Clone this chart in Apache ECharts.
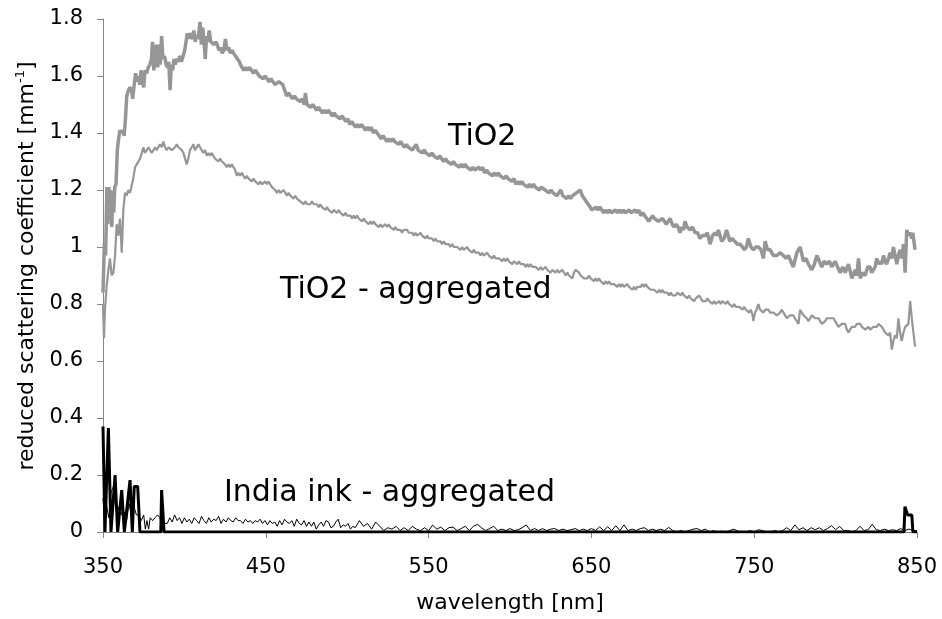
<!DOCTYPE html>
<html>
<head>
<meta charset="utf-8">
<script src="https://cdn.jsdelivr.net/npm/echarts@6/dist/echarts.min.js"></script>
<style>
html,body{margin:0;padding:0;background:#fff;}
#chart{width:942px;height:619px;}
</style>
</head>
<body>
<div id="chart"></div>
<script>
// ---- data (wavelength nm, reduced scattering coefficient mm^-1) ----
const xTicks = [350, 450, 550, 650, 750, 850];
const yTicks = [0, 0.2, 0.4, 0.6, 0.8, 1, 1.2, 1.4, 1.6, 1.8];

const tio2 = [
[350,0.84],[350.8,1.01],[351.6,0.97],[352.4,1.21],[353.0,1.08],[353.6,1.21],[354.2,1.10],[354.8,1.20],[355.4,1.07],[356.0,1.19],
[356.6,1.12],[357.2,1.21],[358.0,1.22],[358.8,1.34],[359.6,1.38],[360.4,1.41],[361.4,1.40],[362.2,1.41],[363.0,1.39],[363.8,1.45],
[364.6,1.53],[365.6,1.55],[366.6,1.56],[367.6,1.55],[368.2,1.52],[369.0,1.56],[370.0,1.61],[370.8,1.58],[371.6,1.60],[372.6,1.57],
[373.4,1.62],[374.2,1.59],[375.0,1.56],[375.8,1.62],[376.8,1.61],[377.8,1.63],[378.8,1.64],[379.8,1.66],[380.4,1.72],[381.2,1.62],
[382.0,1.67],[382.8,1.71],[383.6,1.63],[384.4,1.71],[385.2,1.64],[386.0,1.74],[386.8,1.66],[387.8,1.67],[388.8,1.64],[389.6,1.63],
[390.4,1.65],[391.2,1.55],[392.0,1.64],[392.8,1.62],[393.6,1.66],[394.4,1.64],[395.2,1.66],[396.2,1.65],[397.2,1.67],[398.2,1.65],
[399.2,1.67],[400.2,1.69],[401.0,1.72],[401.8,1.75],[402.6,1.73],[403.4,1.75],[404.2,1.74],[405.0,1.73],[405.8,1.76],[406.6,1.72],
[407.4,1.74],[408.2,1.73],[409.0,1.76],[409.6,1.79],[410.4,1.71],[411.2,1.77],[412.0,1.73],[412.8,1.66],[413.6,1.74],[414.4,1.72],
[415.2,1.76],[416.2,1.72],[417.2,1.72],[418.2,1.71],[419.2,1.72],[420.2,1.71],[421.2,1.69],[422.2,1.70],[423.2,1.68],[424.2,1.69],
[425.2,1.73],[426.2,1.69],[427.2,1.70],[428.2,1.68],[429.2,1.69],[430.2,1.68],[431.4,1.67],[432.6,1.66],[433.8,1.65],[434.4,1.64],
[435.4,1.63],[436.4,1.62],[437.6,1.63],[438.8,1.62],[440.0,1.63],[441.2,1.62],[442.4,1.61],[443.6,1.62],[444.8,1.61],[446.0,1.60],
[447.2,1.60],[448.4,1.59],[449.6,1.60],[450.8,1.59],[452.0,1.58],[453.2,1.59],[454.4,1.58],[455.6,1.57],[456.8,1.57],[458.0,1.58],
[459.2,1.58],[460.4,1.57],[461.6,1.55],[462.8,1.53],[464.0,1.54],[465.2,1.53],[466.4,1.52],[467.6,1.53],[468.8,1.52],[470.0,1.52],
[471.2,1.51],[472.4,1.52],[473.6,1.50],[474.3,1.54],[475.3,1.50],[476.4,1.50],[477.6,1.49],[478.8,1.50],[480.0,1.49],[481.2,1.48],
[482.4,1.49],[483.6,1.48],[484.8,1.47],[486.0,1.48],[487.2,1.47],[488.4,1.48],[489.6,1.47],[490.8,1.46],[492.0,1.47],[493.2,1.46],
[494.4,1.46],[495.6,1.45],[496.8,1.46],[498.0,1.45],[499.2,1.44],[500.4,1.45],[501.6,1.43],[502.8,1.44],[504.0,1.43],[505.2,1.42],
[506.4,1.43],[507.6,1.42],[508.8,1.43],[510.0,1.42],[511.2,1.41],[512.4,1.42],[513.6,1.41],[514.8,1.42],[516.0,1.40],[517.2,1.41],
[518.4,1.40],[519.6,1.39],[520.8,1.38],[522.0,1.39],[523.2,1.38],[524.4,1.37],[525.6,1.38],[526.8,1.37],[528.0,1.38],[529.2,1.37],
[530.4,1.37],[531.6,1.36],[532.8,1.37],[534.0,1.36],[535.2,1.35],[536.4,1.36],[537.6,1.35],[538.8,1.35],[540.0,1.34],[541.2,1.35],
[542.4,1.36],[543.6,1.34],[544.8,1.34],[546.0,1.33],[547.2,1.34],[548.4,1.33],[549.6,1.33],[550.8,1.32],[552.0,1.33],[553.2,1.32],
[554.4,1.32],[555.6,1.31],[556.8,1.32],[558.0,1.31],[559.2,1.30],[560.4,1.31],[561.6,1.30],[562.8,1.30],[564.0,1.29],[565.2,1.30],
[566.4,1.29],[567.6,1.29],[568.8,1.28],[570.0,1.29],[571.2,1.28],[572.4,1.29],[573.6,1.28],[574.8,1.28],[576.0,1.27],[577.2,1.28],
[578.4,1.27],[579.6,1.27],[580.8,1.28],[582.0,1.27],[583.2,1.28],[584.4,1.26],[585.6,1.27],[586.8,1.26],[588.0,1.26],[589.2,1.25],
[590.4,1.26],[591.6,1.25],[592.8,1.26],[594.0,1.25],[595.2,1.25],[596.4,1.24],[597.6,1.25],[598.8,1.24],[600.0,1.24],[601.2,1.23],
[602.4,1.24],[603.6,1.22],[604.8,1.23],[606.0,1.22],[607.2,1.23],[608.4,1.22],[609.6,1.22],[610.8,1.21],[612.0,1.22],[613.2,1.21],
[614.4,1.22],[615.6,1.21],[616.8,1.21],[618.0,1.20],[619.2,1.21],[620.4,1.21],[621.6,1.20],[622.8,1.20],[624.0,1.19],[625.2,1.20],
[626.4,1.19],[627.6,1.19],[628.8,1.18],[630.0,1.19],[631.2,1.20],[632.4,1.18],[633.6,1.18],[634.8,1.17],[636.0,1.18],[637.2,1.17],
[638.4,1.18],[639.6,1.18],[640.8,1.19],[642.0,1.19],[643.2,1.20],[644.4,1.18],[645.6,1.17],[646.8,1.16],[648.0,1.15],[649.2,1.14],
[650.4,1.13],[651.6,1.13],[652.8,1.14],[654.0,1.13],[655.2,1.14],[656.4,1.13],[657.6,1.12],[658.8,1.13],[660.0,1.12],[661.2,1.13],
[662.4,1.12],[663.6,1.12],[664.8,1.13],[666.0,1.12],[667.2,1.13],[668.4,1.12],[669.6,1.13],[670.8,1.12],[672.0,1.12],[673.2,1.13],
[674.4,1.12],[675.6,1.12],[676.8,1.13],[678.0,1.12],[679.2,1.13],[680.4,1.11],[681.6,1.12],[682.8,1.11],[684.0,1.11],[685.2,1.09],
[686.4,1.10],[687.6,1.11],[688.8,1.10],[690.0,1.10],[691.2,1.09],[692.4,1.09],[693.6,1.10],[694.8,1.09],[696.0,1.08],[697.2,1.09],
[698.4,1.10],[699.6,1.08],[700.8,1.07],[702.0,1.08],[703.2,1.07],[704.4,1.05],[705.6,1.07],[706.6,1.06],[707.5,1.09],[708.8,1.07],
[710.6,1.06],[712.0,1.07],[713.7,1.05],[715.2,1.05],[716.7,1.03],[718.2,1.04],[719.8,1.04],[721.2,1.05],[722.9,1.01],[724.4,1.04],
[726.0,1.05],[727.0,1.04],[728.0,1.06],[729.0,1.04],[730.0,1.02],[731.5,1.03],[733.0,1.06],[734.0,1.04],[735.0,1.02],[736.5,1.03],
[738.0,1.02],[739.6,1.01],[741.3,1.01],[742.8,1.00],[744.0,0.99],[745.2,1.00],[746.4,1.03],[748.0,1.00],[749.5,0.99],[751.0,1.00],
[752.6,1.00],[754.2,0.99],[755.7,0.96],[756.7,1.02],[758.2,0.99],[759.8,0.99],[761.8,0.97],[763.9,0.97],[765.9,0.98],[768.0,0.97],
[769.5,0.96],[771.0,0.97],[772.5,0.95],[774.0,0.93],[776.2,0.98],[778.2,1.00],[780.3,0.95],[781.8,0.96],[783.3,0.94],[785.4,0.92],
[787.0,0.94],[788.5,0.97],[790.0,0.95],[791.5,0.93],[793.0,0.95],[794.6,0.94],[796.2,0.95],[797.7,0.93],[799.7,0.95],[801.2,0.93],
[802.8,0.91],[804.4,0.93],[805.9,0.91],[807.9,0.94],[810.0,0.89],[812.0,0.92],[813.0,0.90],[814.1,0.96],[815.1,0.89],[816.7,0.91],
[818.2,0.90],[819.7,0.93],[821.2,0.93],[822.2,0.91],[823.2,0.91],[824.3,0.93],[825.3,0.96],[826.3,0.94],[827.3,0.95],[828.4,0.94],
[829.4,0.97],[830.4,0.95],[831.4,0.94],[832.5,0.96],[833.5,0.98],[834.5,0.96],[835.5,1.00],[836.6,0.97],[837.6,0.94],[838.6,0.97],
[839.6,0.99],[840.7,0.96],[841.7,1.01],[842.7,0.91],[843.7,1.06],[844.7,1.04],[845.8,1.05],[846.8,1.03],[847.4,1.05],[848.8,0.99]
];

const tio2Aggregated = [
[350.0,0.80],[350.6,0.68],[351.2,0.78],[352.2,0.86],[353.3,0.92],[354.3,0.96],[355.3,0.90],[356.4,0.91],[357.4,0.97],[358.4,1.08],
[359.4,1.04],[360.4,1.10],[361.5,0.98],[362.5,1.13],[363.5,1.19],[364.5,1.18],[365.6,1.20],[366.6,1.19],[367.6,1.19],[368.6,1.24],
[369.7,1.28],[370.7,1.29],[371.7,1.29],[372.8,1.31],[373.8,1.33],[374.8,1.35],[375.8,1.33],[376.8,1.33],[377.9,1.35],[378.9,1.35],
[379.9,1.33],[380.9,1.33],[382.0,1.35],[383.0,1.34],[384.0,1.35],[385.0,1.36],[386.1,1.35],[387.1,1.37],[388.1,1.35],[389.1,1.34],
[390.2,1.35],[391.2,1.35],[392.2,1.34],[393.2,1.34],[394.3,1.35],[395.3,1.36],[396.3,1.35],[397.3,1.35],[398.4,1.34],[399.4,1.33],
[400.4,1.31],[401.4,1.29],[402.4,1.31],[403.4,1.34],[404.5,1.35],[405.5,1.36],[406.5,1.34],[407.5,1.34],[408.6,1.36],[409.6,1.35],
[410.6,1.34],[411.6,1.33],[412.7,1.34],[413.7,1.32],[414.7,1.33],[415.7,1.32],[416.8,1.33],[417.8,1.32],[418.8,1.31],[419.9,1.31],
[420.9,1.30],[421.9,1.31],[423.0,1.30],[424.0,1.30],[425.0,1.29],[426.0,1.28],[427.1,1.29],[428.1,1.28],[429.1,1.29],[430.1,1.29],
[431.2,1.27],[432.2,1.25],[433.2,1.26],[434.2,1.25],[435.3,1.26],[436.3,1.25],[437.3,1.24],[438.4,1.25],[439.4,1.24],[440.4,1.24],
[441.4,1.23],[442.5,1.24],[443.5,1.23],[444.5,1.23],[445.6,1.22],[446.6,1.23],[447.6,1.22],[448.6,1.22],[449.7,1.23],[450.7,1.22],
[451.7,1.23],[452.7,1.22],[453.8,1.21],[454.8,1.21],[455.8,1.20],[456.8,1.19],[457.9,1.20],[458.9,1.19],[459.9,1.19],[460.9,1.20],
[462.0,1.19],[463.0,1.18],[464.0,1.19],[465.0,1.18],[466.1,1.18],[467.1,1.17],[468.1,1.18],[469.1,1.17],[470.2,1.17],[471.2,1.16],
[472.2,1.16],[473.2,1.15],[474.3,1.16],[475.3,1.15],[476.3,1.15],[477.3,1.15],[478.4,1.16],[479.4,1.15],[480.4,1.15],[481.4,1.15],
[482.5,1.14],[483.5,1.15],[484.5,1.14],[485.5,1.14],[486.6,1.13],[487.6,1.14],[488.6,1.13],[489.6,1.13],[490.7,1.12],[491.7,1.13],
[492.7,1.13],[493.7,1.12],[494.8,1.13],[495.8,1.12],[496.8,1.12],[497.8,1.11],[498.9,1.12],[499.9,1.11],[500.9,1.11],[502.0,1.11],
[503.0,1.10],[504.0,1.11],[505.0,1.10],[506.1,1.11],[507.1,1.10],[508.1,1.10],[509.1,1.09],[510.2,1.10],[511.2,1.09],[512.2,1.09],
[513.2,1.08],[514.3,1.09],[515.3,1.08],[516.3,1.09],[517.3,1.08],[518.4,1.08],[519.4,1.07],[520.4,1.08],[521.4,1.07],[522.4,1.07],
[523.5,1.08],[524.5,1.07],[525.5,1.08],[526.5,1.07],[527.6,1.07],[528.6,1.06],[529.6,1.07],[530.6,1.06],[531.7,1.06],[532.7,1.06],
[533.7,1.05],[534.7,1.06],[535.8,1.06],[536.8,1.06],[537.8,1.05],[538.8,1.05],[539.9,1.05],[540.9,1.04],[541.9,1.05],[542.9,1.04],
[544.0,1.04],[545.0,1.05],[546.0,1.04],[547.0,1.04],[548.1,1.03],[549.1,1.04],[550.1,1.03],[551.1,1.03],[552.2,1.03],[553.2,1.02],
[554.2,1.03],[555.2,1.02],[556.3,1.02],[557.3,1.02],[558.3,1.01],[559.3,1.02],[560.4,1.01],[561.4,1.01],[562.4,1.01],[563.4,1.00],
[564.5,1.01],[565.5,1.00],[566.5,1.00],[567.5,1.00],[568.6,1.00],[569.6,0.99],[570.6,1.00],[571.6,0.99],[572.7,0.99],[573.7,1.00],
[574.7,0.99],[575.7,0.99],[576.8,0.98],[577.8,0.99],[578.8,0.98],[579.8,0.98],[580.9,0.98],[581.9,0.97],[582.9,0.98],[583.9,0.97],
[585.0,0.97],[586.0,0.98],[587.0,0.97],[588.0,0.97],[589.1,0.96],[590.1,0.97],[591.1,0.96],[592.1,0.96],[593.2,0.96],[594.2,0.96],
[595.2,0.95],[596.2,0.96],[597.3,0.95],[598.3,0.96],[599.3,0.95],[600.3,0.95],[601.4,0.94],[602.4,0.95],[603.4,0.95],[604.4,0.94],
[605.5,0.95],[606.5,0.94],[607.5,0.94],[608.5,0.94],[609.6,0.93],[610.6,0.94],[611.6,0.93],[612.6,0.94],[613.7,0.93],[614.7,0.93],
[615.7,0.93],[616.7,0.93],[617.8,0.92],[618.8,0.93],[619.8,0.92],[620.8,0.92],[621.9,0.93],[622.9,0.92],[623.9,0.92],[624.9,0.91],
[626.0,0.92],[627.0,0.92],[628.0,0.91],[629.0,0.92],[630.1,0.91],[631.1,0.91],[632.1,0.92],[633.1,0.91],[634.2,0.90],[635.2,0.91],
[636.2,0.90],[637.2,0.90],[638.3,0.89],[639.3,0.91],[640.3,0.92],[641.3,0.92],[642.4,0.91],[643.4,0.90],[644.4,0.90],[645.4,0.89],
[646.5,0.89],[647.5,0.89],[648.5,0.90],[649.5,0.89],[650.6,0.89],[651.6,0.88],[652.6,0.89],[653.6,0.88],[654.7,0.89],[655.7,0.88],
[656.7,0.88],[657.7,0.87],[658.8,0.88],[659.8,0.87],[660.8,0.88],[661.8,0.87],[662.9,0.87],[663.9,0.87],[664.9,0.87],[665.9,0.86],
[667.0,0.87],[668.0,0.86],[669.0,0.87],[670.0,0.86],[671.1,0.86],[672.1,0.87],[673.1,0.86],[674.1,0.86],[675.2,0.85],[676.2,0.86],
[677.2,0.85],[678.2,0.86],[679.3,0.86],[680.3,0.86],[681.3,0.87],[682.3,0.86],[683.4,0.87],[684.4,0.86],[685.4,0.86],[686.4,0.85],
[687.5,0.85],[688.5,0.85],[689.5,0.85],[690.5,0.84],[691.6,0.85],[692.6,0.84],[693.6,0.85],[694.6,0.84],[695.7,0.84],[696.7,0.84],
[697.7,0.83],[698.7,0.84],[699.8,0.83],[700.8,0.83],[701.8,0.83],[702.8,0.84],[703.9,0.84],[704.9,0.83],[705.9,0.84],[706.9,0.83],
[708.0,0.83],[709.0,0.82],[710.0,0.83],[711.0,0.82],[712.1,0.82],[713.1,0.81],[714.1,0.82],[715.1,0.82],[716.2,0.83],[717.2,0.82],
[718.2,0.81],[719.2,0.81],[720.3,0.81],[721.3,0.82],[722.3,0.81],[723.3,0.81],[724.4,0.80],[725.4,0.81],[726.4,0.80],[727.4,0.80],
[728.5,0.81],[729.5,0.80],[730.5,0.81],[731.5,0.81],[732.6,0.80],[733.6,0.81],[734.6,0.80],[735.6,0.80],[736.7,0.79],[737.7,0.80],
[738.7,0.79],[739.7,0.79],[740.8,0.79],[741.8,0.79],[742.8,0.78],[743.8,0.79],[744.9,0.78],[745.9,0.78],[746.9,0.77],[747.9,0.78],
[749.0,0.76],[749.5,0.74],[750.5,0.77],[751.5,0.78],[752.6,0.80],[753.6,0.78],[754.6,0.78],[755.7,0.77],[756.7,0.78],[757.7,0.78],
[758.7,0.78],[759.8,0.77],[760.8,0.77],[761.8,0.77],[762.8,0.77],[763.9,0.76],[764.9,0.76],[765.9,0.77],[767.0,0.78],[768.0,0.78],
[769.0,0.76],[770.0,0.75],[771.0,0.75],[772.0,0.76],[773.0,0.76],[774.0,0.76],[775.0,0.75],[776.2,0.74],[777.2,0.73],[778.2,0.78],
[779.2,0.77],[780.3,0.76],[781.3,0.76],[782.3,0.75],[783.3,0.74],[784.4,0.75],[785.4,0.76],[786.4,0.76],[787.4,0.75],[788.5,0.75],
[789.5,0.75],[790.5,0.74],[791.5,0.73],[792.5,0.73],[793.6,0.74],[794.6,0.75],[795.6,0.75],[796.6,0.75],[797.7,0.75],[798.7,0.75],
[799.7,0.74],[800.7,0.73],[801.8,0.72],[802.8,0.72],[803.8,0.73],[804.8,0.73],[805.9,0.73],[806.9,0.71],[807.9,0.70],[808.9,0.71],
[810.0,0.72],[811.0,0.72],[812.0,0.72],[813.0,0.73],[814.1,0.73],[815.1,0.73],[816.1,0.72],[817.1,0.72],[818.2,0.71],[819.2,0.71],
[820.2,0.72],[821.2,0.71],[822.2,0.71],[823.2,0.72],[824.3,0.72],[825.3,0.72],[826.3,0.73],[827.3,0.73],[828.4,0.72],[829.4,0.71],
[830.4,0.70],[831.4,0.70],[832.5,0.69],[833.5,0.70],[834.5,0.64],[835.5,0.67],[836.5,0.69],[837.6,0.68],[838.6,0.75],[839.6,0.70],
[840.6,0.67],[841.7,0.70],[842.7,0.72],[843.7,0.72],[844.7,0.73],[845.8,0.81],[846.8,0.75],[847.8,0.70],[848.8,0.65]
];

const inkAggregated = [
[350,0.12],[351,0.03],[352,0.10],[353.5,0.05],[355,0.14],[356.5,0.16],[357.5,0.10],[358.5,0.07],[360,0.09],[361.5,0.06],
[363,0.07],[364.5,0.04],[366,0.10],[367.5,0.06],[369,0.09],[370.5,0.06],[372,0.06],[373.5,0.04],[375,0.06],[376,0.01],
[377,0.04],[378,0.01],[379,0.05],[380.5,0.04],[382,0.05],[383.5,0.06],[385,0.05],[386.5,0.01],[388,0.03],[389.5,0.03],
[391,0.05],[392.5,0.035],[394,0.06],[395.5,0.04],[397,0.05],[398.5,0.03],[400,0.05],[401.5,0.035],[403,0.045],[404.5,0.03],
[406,0.05],[407.5,0.04],[409,0.03],[410.5,0.055],[412,0.04],[413.5,0.03],[415,0.05],[416.5,0.035],[418,0.045],[419.5,0.04],
[421,0.055],[422.5,0.03],[424,0.045],[425.5,0.035],[427,0.05],[428.5,0.04],[430,0.035],[431.5,0.05],[433,0.04],[434.5,0.04],
[436,0.03],[437.5,0.045],[439,0.035],[440.5,0.04],[442,0.03],[443.5,0.04],[445,0.035],[446.5,0.045],[448,0.03],[449.5,0.04],
[451,0.025],[452.5,0.04],[454,0.03],[455.5,0.035],[457,0.02],[458.5,0.04],[460,0.025],[461.5,0.045],[463,0.035],[464.5,0.03],
[466,0.04],[467.5,0.02],[469,0.045],[470.5,0.03],[472,0.025],[473.5,0.04],[475,0.02],[476.5,0.035],[478,0.02],[479.5,0.035],
[481,0.01],[482.5,0.025],[484,0.035],[485.5,0.02],[487,0.04],[488.5,0.035],[490,0.015],[491.5,0.02],[493,0.035],[494.5,0.045],
[496,0.015],[497.5,0.025],[499,0.02],[500.5,0.03],[502,0.01],[503.5,0.02],[505,0.015],[507.5,0.04],[510,0.02],[512.5,0.03],
[515,0.01],[517.5,0.035],[520,0.02],[522.5,0.005],[525,0.015],[527.5,0.01],[530,0.02],[532.5,0.005],[535,0.015],[537.5,0.005],
[540,0.02],[542.5,0.01],[545,0.005],[547.5,0.015],[550,0.005],[552.5,0.024],[555,0.01],[557.5,0.017],[560,0.005],[562.5,0.015],
[565,0.017],[567.5,0.005],[570,0.012],[572.5,0.02],[575,0.005],[577.5,0.02],[580,0.027],[582.5,0.015],[585,0.005],[587.5,0.012],
[590,0.02],[592.5,0.005],[595,0.01],[597.5,0.005],[600,0.012],[602.5,0.005],[605,0.008],[607.5,0.015],[610,0.025],[612.5,0.005],
[615,0.012],[617.5,0.005],[620,0.012],[622.5,0.005],[625,0.01],[627.5,0.012],[630,0.005],[632.5,0.01],[635,0.005],[637.5,0.008],
[640,0.012],[642.5,0.005],[645,0.01],[647.5,0.005],[650,0.012],[652.5,0.005],[655,0.018],[657.5,0.005],[660,0.018],[662.5,0.005],
[665,0.022],[667.5,0.005],[670,0.025],[672.5,0.005],[675,0.01],[677.5,0.005],[680,0.012],[682.5,0.015],[685,0.005],[687.5,0.01],
[690,0.005],[692.5,0.01],[695,0.005],[697.5,0.016],[700,0.005],[702.5,0],[705,0.005],[707.5,0],[710,0.005],[712.5,0.01],
[715,0.012],[717.5,0.005],[720,0.01],[722.5,0],[725,0.005],[727.5,0],[730,0.003],[732.5,0],[735,0.005],[737.5,0.01],
[740,0.003],[742.5,0],[745,0],[747.5,0.005],[750,0],[752.5,0.008],[755,0.005],[757.5,0],[760,0],[762.5,0.005],
[765,0],[767.5,0.005],[770,0.015],[772.5,0.005],[775,0.025],[777.5,0.008],[780,0.015],[782.5,0.005],[785,0.015],[787.5,0.008],
[790,0.015],[792.5,0.005],[795,0.012],[797.5,0.022],[800,0.008],[802.5,0.02],[805,0.005],[807.5,0.005],[810,0],[812.5,0.005],
[815,0.02],[817.5,0.005],[820,0.008],[822.5,0.027],[825,0.008],[827.5,0.005],[830,0.01],[832.5,0.005],[835,0.008],[837.5,0.005],
[840,0.012],[842.5,0.005],[845,0.01],[847.5,0.005],[850,0.005]
];

const ink = [
[350,0.37],[351.2,0],[353.3,0.365],[354.9,0],[357.4,0.2],[359,0],[361.5,0.147],[363.1,0],[366.6,0.182],[368,0],
[369.2,0.16],[371.3,0.16],[372.7,0],[385.5,0],[386,0.147],[387.5,0],[842,0],[842.6,0.089],[843.6,0.088],[844.2,0.06],
[846.8,0.06],[847.5,0],[850,0]
];

const labels = [
  { text: 'TiO2', x: 448, y: 137 },
  { text: 'TiO2 - aggregated', x: 280, y: 290 },
  { text: 'India ink - aggregated', x: 224, y: 493 }
];

// ---- chart ----
const FONT = 'DejaVu Sans';
const AXIS_COLOR = '#868686';
const chart = echarts.init(document.getElementById('chart'), null, { renderer: 'canvas' });

chart.setOption({
  animation: false,
  backgroundColor: '#ffffff',
  textStyle: { fontFamily: FONT },
  grid: { left: 103, right: 25, top: 19, bottom: 87, containLabel: false },
  xAxis: {
    type: 'value',
    min: xTicks[0],
    max: xTicks[xTicks.length - 1],
    interval: xTicks[1] - xTicks[0],
    splitLine: { show: false },
    axisLine: { show: true, onZero: false, lineStyle: { color: AXIS_COLOR, width: 1 } },
    axisTick: { show: true, length: 6, lineStyle: { color: AXIS_COLOR, width: 1 } },
    axisLabel: { color: '#000', fontSize: 21, fontFamily: FONT, margin: 25 },
    name: 'wavelength [nm]',
    nameLocation: 'middle',
    nameGap: 60,
    nameTextStyle: { color: '#000', fontSize: 22, fontFamily: FONT }
  },
  yAxis: {
    type: 'value',
    min: yTicks[0],
    max: yTicks[yTicks.length - 1],
    interval: yTicks[1] - yTicks[0],
    splitLine: { show: false },
    axisLine: { show: true, lineStyle: { color: AXIS_COLOR, width: 1 } },
    axisTick: { show: true, length: 6, lineStyle: { color: AXIS_COLOR, width: 1 } },
    axisLabel: { color: '#000', fontSize: 21, fontFamily: FONT, margin: 20 }
  },
  series: [
    { name: 'TiO2', type: 'line', data: tio2, showSymbol: false, silent: true,
      lineStyle: { color: '#969696', width: 3.5 }, z: 2 },
    { name: 'TiO2 - aggregated', type: 'line', data: tio2Aggregated, showSymbol: false, silent: true,
      lineStyle: { color: '#969696', width: 2.2 }, z: 2 },
    { name: 'India ink - aggregated', type: 'line', data: inkAggregated, showSymbol: false, silent: true,
      lineStyle: { color: '#000000', width: 1 }, z: 3 },
    { name: 'India ink', type: 'line', data: ink, showSymbol: false, silent: true,
      lineStyle: { color: '#000000', width: 3 }, z: 4 }
  ],
  graphic: labels.map(l => ({
    type: 'text', left: l.x, top: l.y - 15, silent: true,
    style: { text: l.text, fill: '#000', font: '30px "DejaVu Sans"' }
  })).concat([{
    type: 'text', x: 27, y: 266, rotation: Math.PI / 2, silent: true,
    style: {
      text: '{a|reduced scattering coefficient [mm}{s|-1}{a|]}',
      align: 'center', verticalAlign: 'middle',
      rich: {
        a: { fontSize: 22, fontFamily: FONT, fill: '#000', lineHeight: 26 },
        s: { fontSize: 13, fontFamily: FONT, fill: '#000', lineHeight: 14, verticalAlign: 'top' }
      }
    }
  }])
});
</script>
</body>
</html>
